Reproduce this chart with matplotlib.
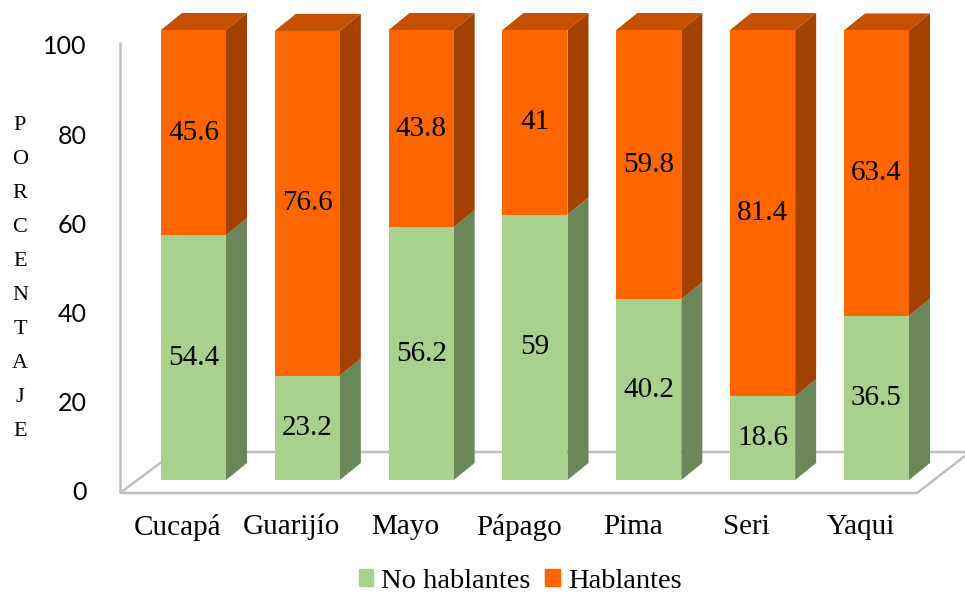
import matplotlib
matplotlib.use("Agg")
import matplotlib.pyplot as plt
from matplotlib.patches import Polygon, Patch

grupos = ["Cucapá", "Guarijío", "Mayo", "Pápago", "Pima", "Seri", "Yaqui"]
no_hablantes = [54.4, 23.2, 56.2, 59, 40.2, 18.6, 36.5]
hablantes = [45.6, 76.6, 43.8, 41, 59.8, 81.4, 63.4]
y_ticks = [0, 20, 40, 60, 80, 100]

# face colours: front, side, top
VERDE = ("#A9D18E", "#6B8759", "#8FB076")
NARANJA = ("#FF6600", "#A34100", "#C55000")
GRIS = "#BFBFBF"
SERIF = "Liberation Serif"

# pixel geometry of the pseudo-3D box (figure is 965 x 594 px)
W_PX, H_PX = 965, 594
X0_PX, XU = 193.5, 113.83          # first bar centre, px per category
Y0_PX, YU = 480.0, 4.5             # bar base, px per percent
AX_L, AX_R, AX_T, AX_B = 120, 965, 13, 493
DX, DY = 21 / XU, 17 / YU          # bar depth
BAR_W = 65 / XU


def px_x(p):
    return (p - X0_PX) / XU


def px_y(p):
    return (Y0_PX - p) / YU


fig = plt.figure(figsize=(W_PX / 100, H_PX / 100), dpi=100)
ax = fig.add_axes([AX_L / W_PX, 1 - AX_B / H_PX,
                   (AX_R - AX_L) / W_PX, (AX_B - AX_T) / H_PX])
ax.set_xlim(px_x(AX_L), px_x(AX_R))
ax.set_ylim(px_y(AX_B), px_y(AX_T))
for s in ax.spines.values():
    s.set_visible(False)

# floor and side-wall edge
yf, yb = px_y(493), px_y(452)
xlf, xlb = px_x(120), px_x(175)
xrf, xrb = px_x(917), px_x(970)
kw = dict(color=GRIS, lw=1.8, clip_on=False, zorder=1, solid_capstyle="butt")
ax.plot([xlf, xlb, xrb], [yf, yb, yb], **kw)
ax.plot([xlf, xrf, xrb], [yf, yf, yb], **kw)
ax.plot([xlf, xlf], [yf, px_y(42)], **kw)

x = list(range(len(grupos)))


def caja(xc, y0, h, colores, tapa):
    front, side, top = colores
    xr = xc + BAR_W / 2
    xl = xc - BAR_W / 2
    y1 = y0 + h
    ax.add_patch(Polygon([(xr, y0), (xr + DX, y0 + DY), (xr + DX, y1 + DY), (xr, y1)],
                         closed=True, fc=side, ec="none", zorder=2))
    if tapa:
        ax.add_patch(Polygon([(xl, y1), (xl + DX, y1 + DY), (xr + DX, y1 + DY), (xr, y1)],
                             closed=True, fc=top, ec="none", zorder=2))


for i in x:
    caja(i, 0, no_hablantes[i], VERDE, False)
    caja(i, no_hablantes[i], hablantes[i], NARANJA, True)

b1 = ax.bar(x, no_hablantes, width=BAR_W, color=VERDE[0], zorder=3)
b2 = ax.bar(x, hablantes, bottom=no_hablantes, width=BAR_W, color=NARANJA[0], zorder=3)

for bars in (b1, b2):
    for r in bars:
        ax.text(r.get_x() + r.get_width() / 2, r.get_y() + r.get_height() / 2,
                f"{r.get_height():g}", ha="center", va="center",
                fontsize=21, family=SERIF, zorder=4)

# axis labels sit on the front plane of the floor
shift_x = 16 / XU
ax.set_xticks([i - shift_x for i in x])
ax.set_xticklabels(grupos, fontsize=21, family=SERIF)
ax.set_yticks([px_y(491 - 4.46 * v) for v in y_ticks])
ax.set_yticklabels([str(v) for v in y_ticks], fontsize=18, family="Lato")
ax.tick_params(axis="x", length=0, pad=15)
ax.tick_params(axis="y", length=0, pad=24)

for k, letra in enumerate("PORCENTAJE"):
    fig.text(20 / W_PX, 1 - (125 + 34.1 * k) / H_PX, letra, ha="center", va="center",
             fontsize=16, family=SERIF)

handles = [Patch(color=VERDE[0], label="No hablantes"),
           Patch(color=NARANJA[0], label="Hablantes")]
fig.legend(handles=handles, loc="center", bbox_to_anchor=(520 / W_PX, 1 - 581 / H_PX),
           ncol=2, frameon=False, prop={"family": SERIF, "size": 20.5},
           handlelength=0.52, handleheight=0.52, handletextpad=0.28,
           columnspacing=0.5, borderpad=0)

fig.savefig("out.png", dpi=100)
